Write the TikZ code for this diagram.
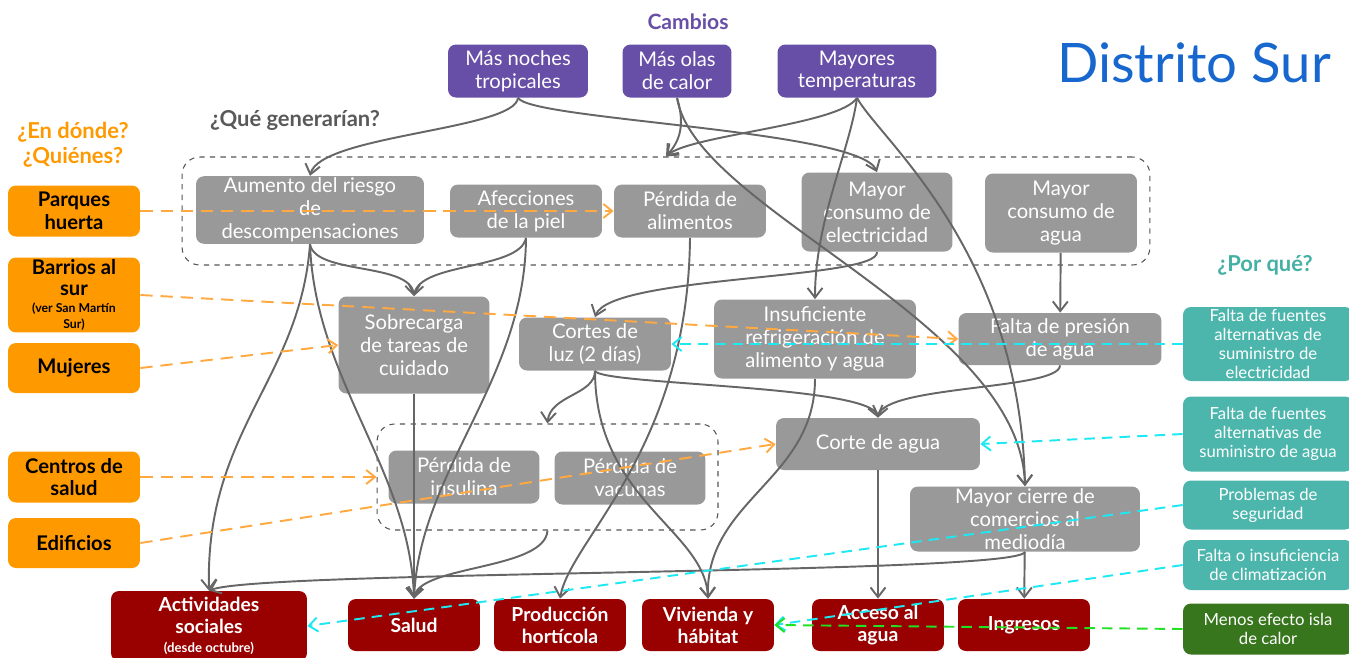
\documentclass[tikz,border=0pt]{standalone}
\usepackage{fontspec}
\setmainfont{Lato}
\usetikzlibrary{arrows.meta}

\definecolor{chgpurple}{HTML}{674EA7}
\definecolor{gengray}{HTML}{999999}
\definecolor{placeorange}{HTML}{FF9900}
\definecolor{whyteal}{HTML}{4DB6AC}
\definecolor{whygreen}{HTML}{38761D}
\definecolor{impactred}{HTML}{990000}
\definecolor{edgegray}{HTML}{666666}
\definecolor{grpgray}{HTML}{555555}
\definecolor{dashorange}{HTML}{FFA940}
\definecolor{dashcyan}{HTML}{1EE8F2}
\definecolor{dashgreen}{HTML}{22E022}
\definecolor{titleblue}{HTML}{1767CF}
\definecolor{askgray}{HTML}{595959}
\definecolor{askteal}{HTML}{45B0A4}

\begin{document}
\begin{tikzpicture}[x=0.02cm, y=-0.02cm,
  every node/.style={font=\fontsize{11.5}{13}\selectfont},
  box/.style={rounded corners=4.5pt, align=center, inner sep=1pt},
  chg/.style={box, fill=chgpurple, text=white, minimum height=1.06cm},
  gen/.style={box, fill=gengray, text=white},
  place/.style={box, fill=placeorange, text=black, font=\fontsize{11.5}{13}\selectfont\bfseries, minimum width=2.64cm},
  why/.style={box, fill=whyteal, text=white, font=\fontsize{9.5}{10.8}\selectfont, minimum width=3.4cm},
  impact/.style={box, fill=impactred, text=white, font=\fontsize{11}{12.5}\selectfont\bfseries, minimum width=2.64cm, minimum height=1.04cm},
  grp/.style={draw=grpgray, dashed, rounded corners=10pt, line width=0.6pt, inner sep=0pt},
  fx/.style={draw=edgegray, line width=1.1pt, -{Straight Barb[length=5.5pt, width=8.5pt]}},
  odash/.style={draw=dashorange, dash pattern=on 7pt off 4.5pt, line width=1.1pt, -{Straight Barb[length=5pt, width=8pt]}},
  cdash/.style={draw=dashcyan, dash pattern=on 6pt off 4pt, line width=1.1pt, -{Straight Barb[length=5pt, width=8pt]}},
  gdash/.style={draw=dashgreen, dash pattern=on 6pt off 4pt, line width=1.1pt, -{Straight Barb[length=5pt, width=8pt]}}]

  \useasboundingbox (0,0) rectangle (1349,657);

  % titulos
  \node[font=\fontsize{12}{14}\selectfont\bfseries, text=chgpurple] (cambios) at (688,22) {Cambios};
  \node[font=\fontsize{31}{35}\selectfont, text=titleblue] (distrito) at (1194,63) {Distrito Sur};
  \node[font=\fontsize{12.5}{14}\selectfont\bfseries, text=askgray] (que) at (295,120) {¿Qué generarían?};
  \node[font=\fontsize{12.5}{14.5}\selectfont\bfseries, text=placeorange, align=center] (donde) at (73,145) {¿En dónde?\\¿Quiénes?};
  \node[font=\fontsize{12.5}{14}\selectfont\bfseries, text=askteal] (porque) at (1265,265) {¿Por qué?};

  % grupos
  \node[grp, minimum width=19.36cm, minimum height=2.16cm] (efectos) at (666,211) {};
  \node[grp, minimum width=6.82cm, minimum height=2.12cm] (perdidas) at (547.5,477) {};

  % cambios
  \node[chg, minimum width=2.8cm] (noches) at (518,71) {Más noches\\tropicales};
  \node[chg, minimum width=2.18cm] (olas) at (677,71) {Más olas\\de calor};
  \node[chg, minimum width=3.18cm] (temp) at (857,71) {Mayores\\temperaturas};

  % efectos
  \node[gen, minimum width=4.56cm, minimum height=1.3cm] (aumento) at (310,210) {Aumento del riesgo\\de\\descompensaciones};
  \node[gen, minimum width=3.04cm, minimum height=1.06cm] (piel) at (526,211) {Afecciones\\de la piel};
  \node[gen, minimum width=3.04cm, minimum height=1.06cm] (alimentos) at (690,211) {Pérdida de\\alimentos};
  \node[gen, minimum width=3.02cm, minimum height=1.58cm] (electricidad) at (877,212) {Mayor\\consumo de\\electricidad};
  \node[gen, minimum width=3.04cm, minimum height=1.58cm] (consagua) at (1061,213) {Mayor\\consumo de\\agua};
  \node[gen, minimum width=3.02cm, minimum height=1.94cm] (sobrecarga) at (414,345) {Sobrecarga\\de tareas de\\cuidado};
  \node[gen, minimum width=3.04cm, minimum height=1.06cm] (luz) at (595,344) {Cortes de\\luz (2 días)};
  \node[gen, minimum width=4.04cm, minimum height=1.58cm] (refrig) at (815,339) {Insuficiente\\refrigeración de\\alimento y agua};
  \node[gen, minimum width=4.06cm, minimum height=1.04cm] (presion) at (1060,339) {Falta de presión\\de agua};
  \node[gen, minimum width=3.02cm, minimum height=1.06cm] (insulina) at (464,477) {Pérdida de\\insulina};
  \node[gen, minimum width=3.02cm, minimum height=1.06cm] (vacunas) at (630,478) {Pérdida de\\vacunas};
  \node[gen, minimum width=4.08cm, minimum height=1.04cm] (corte) at (878,444) {Corte de agua};
  \node[gen, minimum width=4.6cm, minimum height=1.3cm] (cierre) at (1025,519) {Mayor cierre de\\comercios al\\mediodía};

  % impactos
  \node[impact, minimum width=3.92cm, minimum height=1.4cm] (actividades) at (209,626) {Actividades\\sociales\\[-2pt]{\fontsize{7.5}{9}\selectfont (desde octubre)}};
  \node[impact] (salud) at (414,625) {Salud};
  \node[impact] (horticola) at (560,625) {Producción\\hortícola};
  \node[impact] (vivienda) at (708,625) {Vivienda y\\hábitat};
  \node[impact] (acceso) at (878,625) {Acceso al\\agua};
  \node[impact] (ingresos) at (1024,625) {Ingresos};

  % donde / quienes
  \node[place, minimum height=1.02cm] (parques) at (74,211) {Parques\\huerta};
  \node[place, minimum height=1.26cm] (barrios) at (74,295) {Barrios al\\[-1pt]sur\\[-3pt]{\fontsize{7}{8}\selectfont (ver San Martín}\\[-4pt]{\fontsize{7}{8}\selectfont Sur)}};
  \node[place, minimum height=1.0cm] (mujeres) at (74,368) {Mujeres};
  \node[place, minimum height=1.02cm] (centros) at (74,477) {Centros de\\salud};
  \node[place, minimum height=1.0cm] (edificios) at (74,543) {Edificios};

  % por que
  \node[why, minimum height=1.48cm] (fuenteluz) at (1268,344) {Falta de fuentes\\alternativas de\\suministro de\\electricidad};
  \node[why, minimum height=1.5cm] (fuenteagua) at (1268,434) {Falta de fuentes\\alternativas de\\suministro de agua};
  \node[why, minimum height=0.98cm] (seguridad) at (1268,505) {Problemas de\\seguridad};
  \node[why, minimum height=1.0cm] (clima) at (1268,565) {Falta o insuficiencia\\de climatización};
  \node[why, fill=whygreen, minimum height=1.02cm] (isla) at (1268,629) {Menos efecto isla\\de calor};

  % cambios -> efectos
  \draw[fx] (noches.south) .. controls (515,130) and (320,135) .. (aumento.north);
  \draw[fx] (noches.south) .. controls (530,120) and (860,130) .. (electricidad.north);
  \draw[fx] (olas.south) .. controls (687,130) and (676,145) .. (efectos.north);
  \draw[fx] (temp.south) .. controls (840,125) and (690,135) .. (efectos.north);
  \draw[fx] (olas.south) .. controls (695,210) and (1020,320) .. (cierre.north);
  \draw[fx] (temp.south) .. controls (880,140) and (1020,250) .. (cierre.north);
  \draw[fx] (temp.south) .. controls (850,150) and (815,220) .. (refrig.north);

  % efectos -> efectos
  \draw[fx] (aumento.south) .. controls (315,275) and (410,262) .. (sobrecarga.north);
  \draw[fx] (piel.south) .. controls (520,270) and (420,262) .. (sobrecarga.north);
  \draw[fx] (electricidad.south) .. controls (880,280) and (610,275) .. (luz.north);
  \draw[fx] (consagua) -- (presion);
  \draw[fx] (luz.south) .. controls (595,395) and (550,395) .. (perdidas.north);
  \draw[fx] (luz.south) .. controls (600,385) and (870,385) .. (corte.north);
  \draw[fx] (presion.south) .. controls (1060,390) and (885,385) .. (corte.north);

  % efectos -> impactos
  \draw[fx] (aumento.south) .. controls (300,380) and (205,430) .. (actividades.north);
  \draw[fx] (aumento.south) .. controls (315,380) and (410,470) .. (salud.north);
  \draw[fx] (piel.south) .. controls (525,380) and (420,470) .. (salud.north);
  \draw[fx] (sobrecarga) -- (salud);
  \draw[fx] (perdidas.south) .. controls (545,570) and (420,565) .. (salud.north);
  \draw[fx] (alimentos.south) .. controls (688,450) and (570,540) .. (horticola.north);
  \draw[fx] (luz.south) .. controls (595,500) and (705,530) .. (vivienda.north);
  \draw[fx] (refrig.south) .. controls (815,480) and (705,500) .. (vivienda.north);
  \draw[fx] (corte) -- (acceso);
  \draw[fx] (cierre) -- (ingresos);
  \draw[fx] (cierre.south) .. controls (1020,575) and (260,570) .. (actividades.north);

  % donde / quienes
  \draw[odash] (parques) -- (alimentos);
  \draw[odash] (barrios.east) -- (presion.west);
  \draw[odash] (mujeres.east) -- (sobrecarga.west);
  \draw[odash] (centros) -- (perdidas);
  \draw[odash] (edificios.east) -- (corte.west);

  % por que
  \draw[cdash] (fuenteluz) -- (luz);
  \draw[cdash] (fuenteagua.west) -- (corte.east);
  \draw[cdash] (seguridad.west) -- (actividades.east);
  \draw[cdash] (clima.west) -- (vivienda.east);
  \draw[gdash] (isla.west) -- (vivienda.east);
\end{tikzpicture}
\end{document}
